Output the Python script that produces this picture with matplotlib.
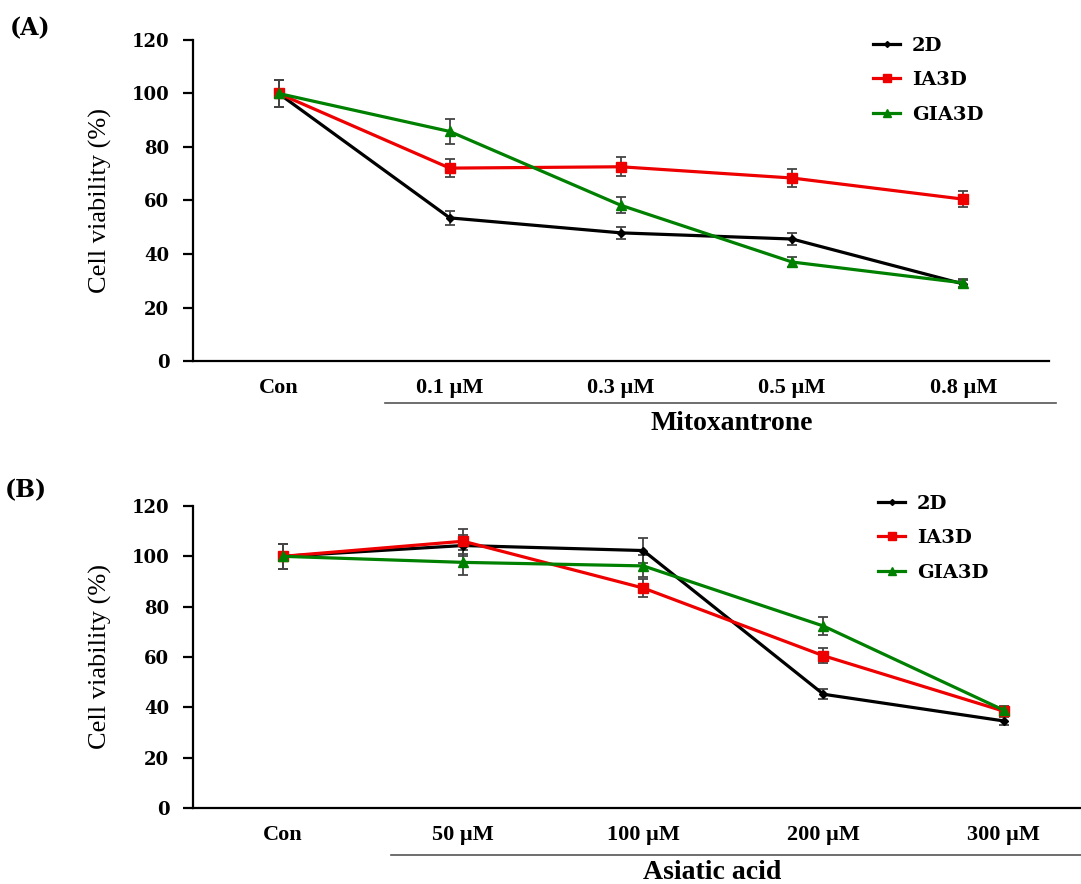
import matplotlib.pyplot as plt
from matplotlib.lines import Line2D

# Datos del panel A (Mitoxantrone)
labels_a = ['Con', '0.1 µM', '0.3 µM', '0.5 µM', '0.8 µM']
a_2d = [100, 53.5, 47.9, 45.6, 28.8]
a_2d_err = [5, 2.5, 2.3, 2.3, 1.5]
a_ia3d = [100, 72.1, 72.6, 68.4, 60.5]
a_ia3d_err = [5, 3.5, 3.5, 3.3, 3.0]
a_gia3d = [100, 85.8, 58.2, 37.0, 29.2]
a_gia3d_err = [5, 4.5, 3.0, 1.8, 1.5]

# Datos del panel B (Asiatic acid)
labels_b = ['Con', '50 µM', '100 µM', '200 µM', '300 µM']
b_2d = [100, 104.3, 102.3, 45.2, 34.6]
b_2d_err = [5, 4.0, 5.0, 2.0, 1.5]
b_ia3d = [100, 106.0, 87.4, 60.5, 38.5]
b_ia3d_err = [5, 5.0, 3.5, 3.0, 1.5]
b_gia3d = [100, 97.6, 96.2, 72.3, 38.9]
b_gia3d_err = [5, 5.0, 4.5, 3.5, 1.5]

serif = 'Liberation Serif'
wide = 'DejaVu Serif'
plt.rcParams['font.family'] = serif

fig = plt.figure(figsize=(10.81, 8.84), dpi=100)
ax_a = fig.add_axes([0.1785, 0.5916, 0.7918, 0.3632])
ax_b = fig.add_axes([0.1785, 0.0860, 0.8215, 0.3416])

series_style = [
    ('2D', 'black', 'D', 4),
    ('IA3D', '#ee0000', 's', 7),
    ('GIA3D', '#008000', '^', 7),
]


def draw_panel(ax, labels, values, errors, xmax, group_name, name_x, name_y, line_x0, line_x1, line_y):
    x = list(range(len(labels)))
    handles = []
    for (name, color, marker, ms), vals, errs in zip(series_style, values, errors):
        ax.errorbar(x, vals, yerr=errs, color=color, marker=marker, markersize=ms,
                    linewidth=2.3, ecolor='#444444', elinewidth=1.3, capsize=3.5,
                    capthick=1.3)
        handles.append(Line2D([], [], color=color, marker=marker, markersize=ms - 1,
                              linewidth=2.3, label=name))

    ax.set_xlim(-0.5, xmax)
    ax.set_ylim(0, 120)
    ax.set_yticks(range(0, 121, 20))
    ax.set_xticks(x)
    ax.set_xticklabels(labels)

    for axis in ['top', 'right']:
        ax.spines[axis].set_visible(False)
    for axis in ['left', 'bottom']:
        ax.spines[axis].set_linewidth(1.6)

    ax.tick_params(axis='y', direction='out', length=7, width=1.6, pad=10)
    ax.tick_params(axis='x', length=0, pad=12)
    for t in ax.get_yticklabels():
        t.set_fontfamily(wide)
        t.set_fontweight('bold')
        t.set_fontsize(13)
    for t in ax.get_xticklabels():
        t.set_fontweight('bold')
        t.set_fontsize(16)

    ax.set_ylabel('Cell viability (%)', fontsize=19, labelpad=14)

    # Línea y nombre del grupo bajo las etiquetas
    ax.add_line(Line2D([line_x0, line_x1], [line_y, line_y], color='#555555', linewidth=1.2,
                       transform=ax.get_xaxis_transform(), clip_on=False))
    ax.text(name_x, name_y, group_name, transform=ax.get_xaxis_transform(),
            ha='center', va='center', fontsize=20, fontweight='bold')

    leg = ax.legend(handles=handles, loc='upper left', frameon=False, handlelength=1.4,
                    labelspacing=0.85, handletextpad=0.6,
                    prop={'family': wide, 'weight': 'bold', 'size': 14})
    return leg


leg_a = draw_panel(ax_a, labels_a, [a_2d, a_ia3d, a_gia3d], [a_2d_err, a_ia3d_err, a_gia3d_err],
                   4.5, 'Mitoxantrone', 2.65, -0.195, 0.62, 4.54, -0.131)
leg_a.set_bbox_to_anchor((0.774, 1.065), transform=ax_a.transAxes)

leg_b = draw_panel(ax_b, labels_b, [b_2d, b_ia3d, b_gia3d], [b_2d_err, b_ia3d_err, b_gia3d_err],
                   4.43, 'Asiatic acid', 2.38, -0.215, 0.6, 4.43, -0.156)
leg_b.set_bbox_to_anchor((0.752, 1.096), transform=ax_b.transAxes)

fig.text(0.009, 0.968, '(A)', fontsize=17, fontweight='bold', va='center', family=wide)
fig.text(0.004, 0.446, '(B)', fontsize=17, fontweight='bold', va='center', family=wide)

fig.savefig('out.png', dpi=100)
